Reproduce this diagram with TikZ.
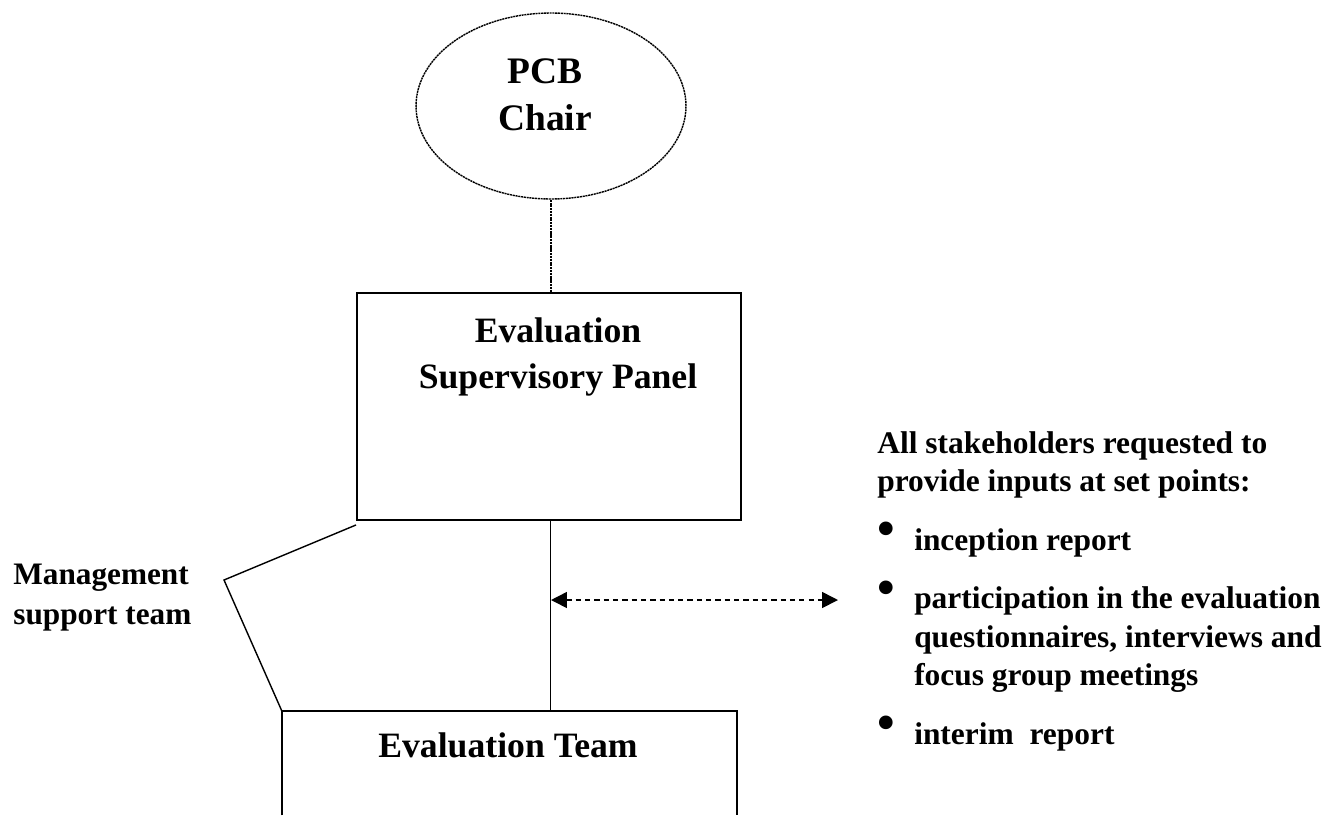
\documentclass[tikz,border=0pt]{standalone}
\usepackage{fontspec}
\setmainfont{Liberation Serif}
\usepackage{graphicx}
\usetikzlibrary{positioning,arrows.meta,shapes.geometric}

\newlength{\bulletw}
\setlength{\bulletw}{21pt}
\newcommand{\stakebullet}{\makebox[\bulletw][l]{\raisebox{2.6pt}{\scalebox{1.6}{\textbullet}}}}

\begin{document}
\begin{tikzpicture}[x=0.02cm, y=-0.02cm, >={Triangle[length=9pt,width=9pt]}]
\tikzset{
  chairnode/.style={
    draw,
    ellipse,
    line width=0.8pt,
    dash pattern=on 1.2pt off 0.4pt,
    minimum width=5.4cm,
    minimum height=3.72cm,
  },
  panelbox/.style={draw, line width=1.1pt, minimum width=7.68cm, minimum height=4.54cm},
  teambox/.style={minimum width=9.1cm, minimum height=2.08cm},
  boxtext/.style={font=\fontsize{20.3pt}{26.2pt}\selectfont\bfseries, align=center, inner sep=0pt},
  sidetext/.style={font=\fontsize{17.8pt}{22.4pt}\selectfont\bfseries, align=left, inner sep=0pt}
}
\useasboundingbox (0,0) rectangle (1334,815);

% chair on top
\node[chairnode] (chair) at (551,106) {};
\node[boxtext, font=\fontsize{21.3pt}{26.7pt}\selectfont\bfseries, anchor=north] (chairtxt) at (545,58) {PCB\\Chair};

% panel and team
\node[panelbox] (panel) at (549,406.5) {};
\node[boxtext, anchor=north] (paneltxt) at (558,317) {Evaluation\\Supervisory Panel};
\node[teambox] (team) at (509.5,763) {};
\node[boxtext, anchor=base] (teamtxt) at (508,757) {Evaluation Team};
\draw[line width=1.1pt] (team.south west) |- (team.north east) -- (team.south east);

\draw[line width=0.8pt, dash pattern=on 1.2pt off 0.4pt] (chair.south) -- (chair.south |- panel.north);
\draw[line width=1.1pt] (panel.south) ++(1.5,0) coordinate (stem) -- (stem |- team.north);

% management support
\coordinate (mgmtknee) at (224,580);
\draw[line width=0.8pt] ([yshift=-0.08cm]panel.south west) -- (mgmtknee) -- (team.north west);
\node[sidetext, anchor=north west] (mgmt) at (13,564) {Management\\support team};

% stakeholders
\coordinate (arrowstart) at (551,600);
\coordinate (arrowend) at (838,600);
\draw[<->, line width=0.9pt, dash pattern=on 3pt off 2.3pt] (arrowstart) -- (arrowend);
\node[sidetext, font=\fontsize{17.9pt}{21.9pt}\selectfont\bfseries, anchor=north west] (stake) at (877,431) {%
All stakeholders requested to\\
provide inputs at set points:\\[11.4pt]
\stakebullet inception report\\[11.4pt]
\stakebullet participation in the evaluation\\
\hspace*{\bulletw}questionnaires, interviews and\\
\hspace*{\bulletw}focus group meetings\\[11.4pt]
\stakebullet interim\ \ report};
\end{tikzpicture}
\end{document}
